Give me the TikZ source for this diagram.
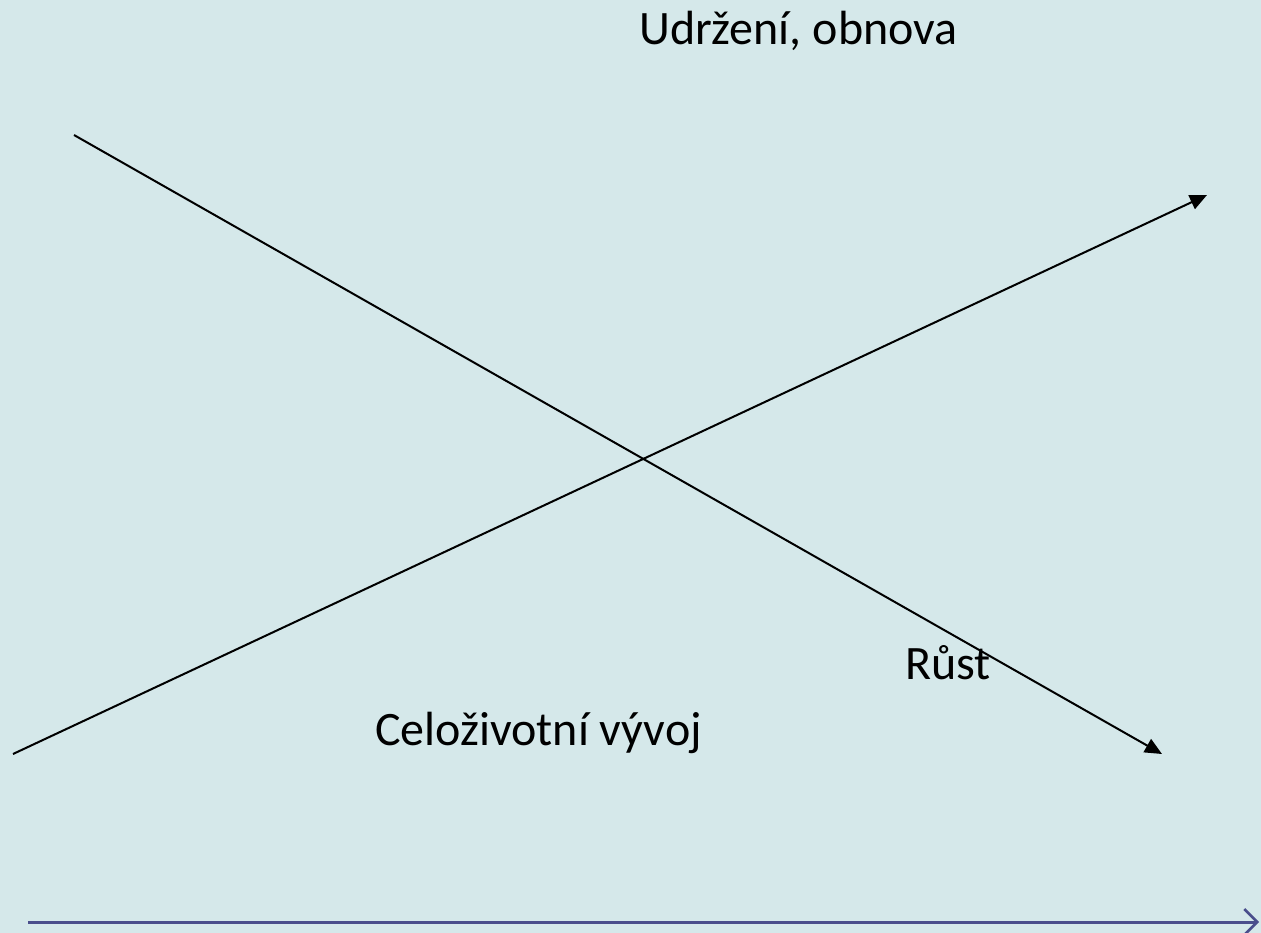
\documentclass[tikz,border=0pt]{standalone}
\usepackage{fontspec}
\setmainfont{Carlito}
\usetikzlibrary{arrows.meta}
\definecolor{bg}{RGB}{213,232,234}
\definecolor{axis}{RGB}{74,78,140}
\begin{document}
\begin{tikzpicture}[x=1pt,y=-1pt,
  lbl/.style={anchor=base west,inner sep=0pt,font=\fontsize{48}{57}\selectfont},
  trend/.style={line width=2pt,black,-{Triangle[length=17pt,width=15pt]}},
  timeaxis/.style={line width=3pt,axis,-{Straight Barb[length=13pt,width=26pt,line width=2.5pt]}}]
\fill[bg] (0,0) rectangle (1261,933);
\useasboundingbox (0,0) rectangle (1261,933);
\coordinate (s1) at (74,135);
\coordinate (e1) at (1162,754);
\coordinate (s2) at (13,754);
\coordinate (e2) at (1207,195);
\coordinate (ta) at (28,922);
\coordinate (tb) at (1259,922);
\draw[trend] (s1) -- (e1);
\draw[trend] (s2) -- (e2);
\draw[timeaxis] (ta) -- (tb);
\node[lbl] (udr) at (639,45) {Udržení, obnova};
\node[lbl] (cel) at (375,745) {Celoživotní vývoj};
\node[lbl] (rust) at (905,679) {Růst};
\end{tikzpicture}
\end{document}
